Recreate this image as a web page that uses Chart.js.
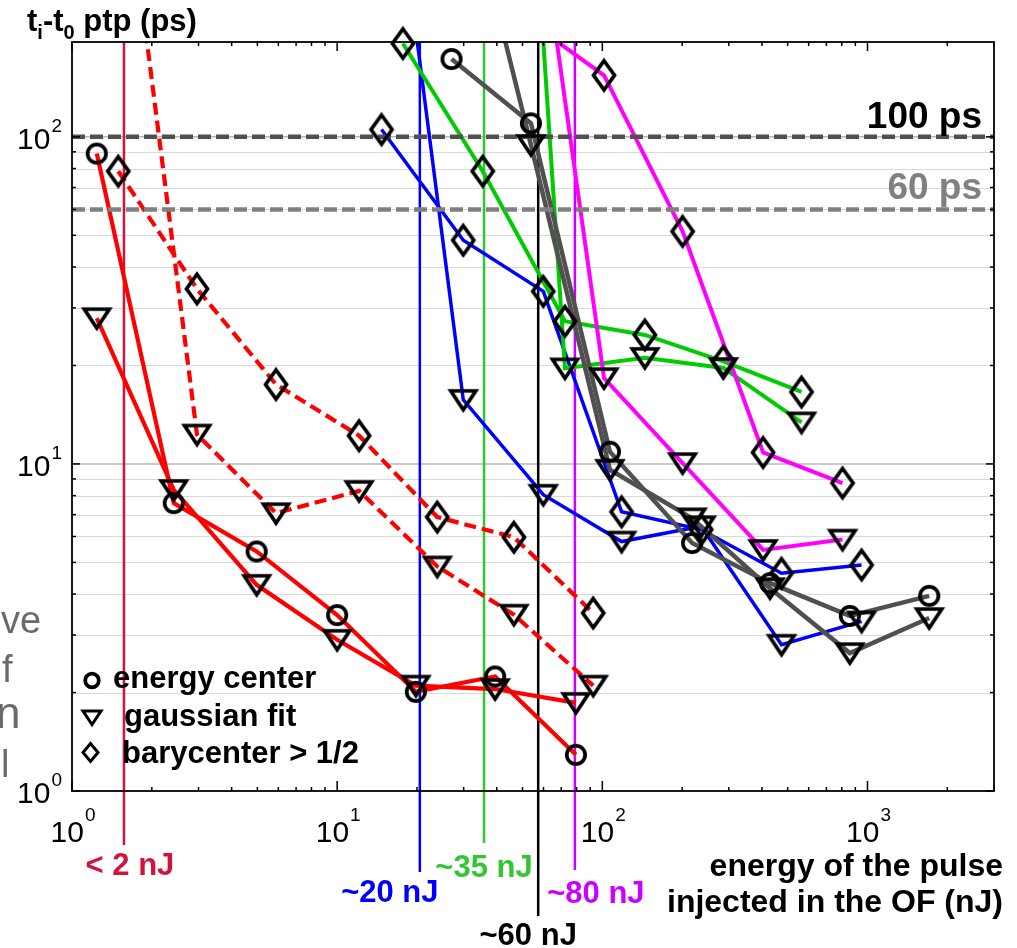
<!DOCTYPE html>
<html><head><meta charset="utf-8">
<script src="https://cdn.jsdelivr.net/npm/chart.js@4.4.1/dist/chart.umd.min.js"></script>
<style>html,body{margin:0;padding:0;background:#fff;}canvas{display:block;}</style>
</head><body>
<canvas id="c" width="1017" height="948"></canvas>
<script>
// ---------- data ----------
const X_MIN = 1, X_MAX = 3000, Y_MIN = 1, Y_MAX = 195;

const redCircleX = [1.24, 2.42, 4.97, 10.0, 19.8, 39.4, 79.5];
const redCircleY = [88.9, 7.59, 5.40, 3.45, 2.01, 2.24, 1.29];
const redTriX    = [1.24, 2.42, 4.97, 10.0, 19.8, 39.4, 79.5];
const redTriY    = [27.9, 8.33, 4.27, 2.90, 2.10, 2.05, 1.86];

const redDashDiaX = [1.495, 2.96, 5.88, 12.1, 23.85, 46.4, 92.4];
const redDashDiaY = [78.5, 34.3, 17.5, 12.2, 6.88, 5.97, 3.50];
const redDashTriX = [1.495, 2.96, 5.88, 12.1, 23.85, 46.4, 92.4];
const redDashTriY = [950, 12.3, 7.07, 8.27, 4.86, 3.46, 2.10];

const blueDiaX = [14.7, 29.9, 59.9, 118.2, 236, 474, 950];
const blueDiaY = [105.3, 48.3, 33.7, 7.14, 6.3, 4.63, 4.91];
const blueTriX = [14.7, 29.9, 59.9, 118.2, 236, 474, 950];
const blueTriY = [1380, 15.7, 8.05, 5.79, 6.45, 2.80, 3.30];

const greenDiaX = [17.7, 35.4, 72.3, 144.7, 286, 564];
const greenDiaY = [193, 78.5, 27.3, 24.8, 20.6, 16.6];
const greenTriX = [59.9, 72.3, 144.7, 286, 564];
const greenTriY = [196, 19.6, 21.1, 19.65, 13.4];

const magentaDiaX = [67.3, 101.5, 200.8, 404, 805];
const magentaDiaY = [196, 154.3, 51.4, 10.84, 8.74];
const magentaTriX = [67.3, 101.5, 200.8, 404, 805];
const magentaTriY = [196, 18.3, 10.06, 5.46, 5.87];

const grayCircX = [27.0, 53.8, 106.8, 218, 429, 858, 1709];
const grayCircY = [173, 110, 10.9, 5.73, 4.32, 3.43, 3.95];
const grayTriX  = [27.0, 53.8, 106.8, 218, 429, 858, 1709];
const grayTriY  = [900, 94.5, 9.6, 6.82, 4.17, 2.64, 3.38];

const majorTicks = [1, 10, 100, 1000];
const majorExponents = ['0', '1', '2', '3'];
const xMinorTicks = [2,3,4,5,6,7,8,9,20,30,40,50,60,70,80,90,200,300,400,500,600,700,800,900,2000,3000];
const yMinorTicks = [2,3,4,5,6,7,8,9,20,30,40,50,60,70,80,90];

const thresholdValues = [100, 60];
const thresholdLabels = ['100 ps', '60 ps'];

const refEnergies = [1.57, 20.5, 35.8, 57.3, 78.8];
const refLabels = ['< 2 nJ', '~20 nJ', '~35 nJ', '~60 nJ', '~80 nJ'];

const legendLabels = ['energy center', 'gaussian fit', 'barycenter > 1/2'];
const yTitleParts = ['t', 'i', '-t', '0', ' ptp (ps)'];
const xTitleLines = ['energy of the pulse', 'injected in the OF (nJ)'];
const sideFragments = ['ve', 'f', 'n', 'l'];

// ---------- styles ----------
const FONT = '"Liberation Sans", Arial, Helvetica, sans-serif';
const refStyles = [
  {color:'#d2143c', width:2.5, bottom:845, dx:6,   base:875},
  {color:'#0000ff', width:2.5, bottom:872, dx:-30, base:902},
  {color:'#33c633', width:2.5, bottom:843, dx:0,   base:877},
  {color:'#000000', width:2.5, bottom:916, dx:-10, base:945},
  {color:'#cc00ff', width:2.5, bottom:870, dx:21,  base:903}
];
const thresholdStyles = [
  {color:'#505050', text:'#000000', base:128},
  {color:'#808080', text:'#808080', base:199}
];

function makeMarker(kind) {
  const c = document.createElement('canvas');
  const g = c.getContext('2d');
  g.strokeStyle = '#000'; g.lineJoin = 'miter';
  if (kind === 'circle') {
    c.width = 28; c.height = 28; g.lineWidth = 3.7;
    g.beginPath(); g.arc(14, 14, 9.2, 0, Math.PI * 2); g.stroke();
  } else if (kind === 'tri') {
    c.width = 36; c.height = 32; g.lineWidth = 3.7;
    g.beginPath(); g.moveTo(5.5, 7); g.lineTo(30.5, 7); g.lineTo(18, 26); g.closePath(); g.stroke();
  } else {
    c.width = 30; c.height = 38; g.lineWidth = 3.7;
    g.beginPath(); g.moveTo(15, 4.5); g.lineTo(25.5, 19); g.lineTo(15, 33.5); g.lineTo(4.5, 19); g.closePath(); g.stroke();
  }
  return c;
}
const markers = {circle: makeMarker('circle'), tri: makeMarker('tri'), dia: makeMarker('dia')};

function pts(xs, ys) { return xs.map((x, i) => ({x: x, y: ys[i]})); }

const series = [
  {xs: grayCircX, ys: grayCircY, color:'#505050', w:4.5, dash:[], m:'circle'},
  {xs: grayTriX, ys: grayTriY, color:'#505050', w:4.5, dash:[], m:'tri'},
  {xs: magentaDiaX, ys: magentaDiaY, color:'#ff00ff', w:4, dash:[], m:'dia'},
  {xs: magentaTriX, ys: magentaTriY, color:'#ff00ff', w:4, dash:[], m:'tri'},
  {xs: greenDiaX, ys: greenDiaY, color:'#00cc00', w:4, dash:[], m:'dia'},
  {xs: greenTriX, ys: greenTriY, color:'#00cc00', w:4, dash:[], m:'tri'},
  {xs: blueDiaX, ys: blueDiaY, color:'#0000ff', w:3.5, dash:[], m:'dia'},
  {xs: blueTriX, ys: blueTriY, color:'#0000ff', w:3.5, dash:[], m:'tri'},
  {xs: redDashDiaX, ys: redDashDiaY, color:'#ff0000', w:4.2, dash:[12,6], m:'dia'},
  {xs: redDashTriX, ys: redDashTriY, color:'#ff0000', w:4.2, dash:[12,6], m:'tri'},
  {xs: redCircleX, ys: redCircleY, color:'#ff0000', w:4.2, dash:[], m:'circle'},
  {xs: redTriX, ys: redTriY, color:'#ff0000', w:4.2, dash:[], m:'tri'}
];

const datasets = [];
series.forEach(s => {
  datasets.push({data: pts(s.xs, s.ys), borderColor: s.color, borderWidth: s.w, borderDash: s.dash,
    pointRadius: 0, showLine: true, fill: false, tension: 0, clip: 0, order: 3});
  datasets.push({data: pts(s.xs, s.ys), showLine: false, pointStyle: markers[s.m],
    pointRadius: ctx => (ctx.raw && ctx.raw.y > Y_MAX) ? 0 : 10, clip: false, order: 1});
});
thresholdValues.forEach((v, i) => {
  datasets.push({data: [{x: X_MIN, y: v}, {x: X_MAX, y: v}], borderColor: thresholdStyles[i].color,
    borderWidth: 4.5, borderDash: [13, 5], pointRadius: 0, showLine: true, fill: false, clip: 0, order: 2});
});

function hline(ctx, x1, y1, x2, y2) { ctx.beginPath(); ctx.moveTo(x1, y1); ctx.lineTo(x2, y2); ctx.stroke(); }

const decor = {
  id: 'decor',
  beforeDatasetsDraw(chart) {
    const {ctx, chartArea: a, scales: {x, y}} = chart;
    ctx.save();
    ctx.lineWidth = 1;
    ctx.strokeStyle = '#d9d9d9';
    yMinorTicks.forEach(v => { const py = Math.round(y.getPixelForValue(v)) + 0.5; hline(ctx, a.left, py, a.right, py); });
    ctx.strokeStyle = '#b8b8b8'; ctx.lineWidth = 1.5;
    majorTicks.forEach(v => { if (v > Y_MIN && v < Y_MAX) { const py = y.getPixelForValue(v); hline(ctx, a.left, py, a.right, py); } });
    refEnergies.forEach((e, i) => {
      const st = refStyles[i]; const px = x.getPixelForValue(e);
      ctx.strokeStyle = st.color; ctx.lineWidth = st.width;
      hline(ctx, px, a.top, px, st.bottom);
    });
    ctx.restore();
  },
  afterDraw(chart) {
    const {ctx, chartArea: a, scales: {x, y}} = chart;
    ctx.save();
    // frame
    ctx.strokeStyle = '#000'; ctx.lineWidth = 1.8;
    ctx.strokeRect(a.left, a.top, a.right - a.left, a.bottom - a.top);
    // ticks
    ctx.lineWidth = 1.5;
    majorTicks.forEach(v => {
      const px = x.getPixelForValue(v);
      if (v >= X_MIN && v <= X_MAX) { hline(ctx, px, a.bottom, px, a.bottom - 10); hline(ctx, px, a.top, px, a.top + 9); }
      if (v >= Y_MIN && v <= Y_MAX) { const py = y.getPixelForValue(v); hline(ctx, a.left, py, a.left + 8, py); hline(ctx, a.right, py, a.right - 8, py); }
    });
    xMinorTicks.forEach(v => { const px = x.getPixelForValue(v); hline(ctx, px, a.bottom, px, a.bottom - 4); hline(ctx, px, a.top, px, a.top + 4); });
    yMinorTicks.forEach(v => { const py = y.getPixelForValue(v); hline(ctx, a.left, py, a.left + 4, py); hline(ctx, a.right, py, a.right - 4, py); });
    // tick labels
    ctx.fillStyle = '#000'; ctx.textBaseline = 'alphabetic'; ctx.textAlign = 'left';
    majorTicks.forEach((v, i) => {
      ctx.font = '30px ' + FONT; const w1 = ctx.measureText('10').width;
      ctx.font = '19px ' + FONT; const w2 = ctx.measureText(majorExponents[i]).width;
      const tot = w1 + 1 + w2;
      if (v >= X_MIN && v <= X_MAX) {
        const px = x.getPixelForValue(v); const s = px - tot / 2 + 1;
        ctx.font = '30px ' + FONT; ctx.fillText('10', s, 842);
        ctx.font = '19px ' + FONT; ctx.fillText(majorExponents[i], s + w1 + 1, 821);
      }
      if (v >= Y_MIN && v <= Y_MAX) {
        const py = y.getPixelForValue(v); const s = 62 - tot;
        ctx.font = '30px ' + FONT; ctx.fillText('10', s, py + 12);
        ctx.font = '19px ' + FONT; ctx.fillText(majorExponents[i], s + w1 + 1, py - 5);
      }
    });
    // y title
    let tx = 27;
    yTitleParts.forEach((p, i) => {
      const sub = (i === 1 || i === 3);
      ctx.font = 'bold ' + (sub ? 20 : 31) + 'px ' + FONT;
      ctx.fillText(p, tx, sub ? 39 : 31);
      tx += ctx.measureText(p).width;
    });
    // x title
    ctx.font = 'bold 32px ' + FONT; ctx.textAlign = 'right';
    ctx.fillText(xTitleLines[0], 1003, 876);
    ctx.fillText(xTitleLines[1], 1003, 912);
    // threshold labels
    ctx.font = 'bold 37px ' + FONT;
    thresholdLabels.forEach((t, i) => { ctx.fillStyle = thresholdStyles[i].text; ctx.fillText(t, 982, thresholdStyles[i].base); });
    // reference labels
    ctx.textAlign = 'center'; ctx.font = 'bold 31px ' + FONT;
    refLabels.forEach((t, i) => {
      const st = refStyles[i]; const px = x.getPixelForValue(refEnergies[i]);
      ctx.fillStyle = st.color; ctx.fillText(t, px + st.dx, st.base);
    });
    // legend
    ctx.textAlign = 'left'; ctx.fillStyle = '#000'; ctx.strokeStyle = '#000';
    ctx.lineWidth = 3.8; ctx.beginPath(); ctx.arc(92, 680.5, 6.8, 0, Math.PI * 2); ctx.stroke();
    ctx.lineWidth = 3; ctx.lineJoin = 'miter';
    ctx.beginPath(); ctx.moveTo(83, 711); ctx.lineTo(101, 711); ctx.lineTo(92, 724.5); ctx.closePath(); ctx.stroke();
    ctx.beginPath(); ctx.moveTo(90.5, 743.5); ctx.lineTo(98, 752.5); ctx.lineTo(90.5, 761.5); ctx.lineTo(83, 752.5); ctx.closePath(); ctx.stroke();
    ctx.font = 'bold 31px ' + FONT;
    ctx.fillText(legendLabels[0], 113, 688);
    ctx.fillText(legendLabels[1], 124, 726);
    ctx.fillText(legendLabels[2], 122, 763);
    // cropped side fragments
    ctx.fillStyle = '#6a6a6a';
    ctx.font = '38px ' + FONT;
    ctx.fillText(sideFragments[0], 1, 633);
    ctx.fillText(sideFragments[1], 2, 682);
    ctx.fillText(sideFragments[3], 1, 777);
    ctx.font = '44px ' + FONT;
    ctx.fillText(sideFragments[2], -4, 728);
    ctx.restore();
  }
};

new Chart(document.getElementById('c'), {
  type: 'line',
  data: {datasets: datasets},
  options: {
    responsive: false, animation: false, devicePixelRatio: 1, events: [],
    layout: {padding: {left: 72, top: 42, right: 23, bottom: 157}},
    plugins: {legend: {display: false}, tooltip: {enabled: false}},
    scales: {
      x: {type: 'logarithmic', min: X_MIN, max: X_MAX, display: false},
      y: {type: 'logarithmic', min: Y_MIN, max: Y_MAX, display: false}
    }
  },
  plugins: [decor]
});
</script>
</body></html>
